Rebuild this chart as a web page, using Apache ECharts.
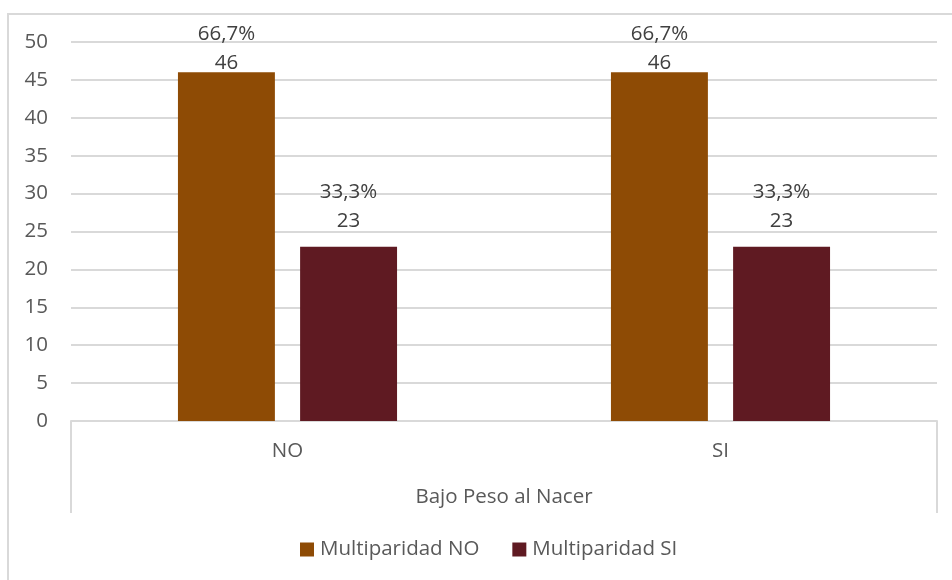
<!DOCTYPE html>
<html>
<head>
<meta charset="utf-8">
<script src="https://cdn.jsdelivr.net/npm/echarts@6/dist/echarts.min.js"></script>
<style>
  html, body { margin: 0; padding: 0; background: #ffffff; overflow: hidden; }
  #frame { position: absolute; left: 7px; top: 13px; width: 2000px; height: 2000px; border: 2px solid #d9d9d9; box-sizing: border-box; }
  #chart { position: absolute; left: 0; top: 0; width: 952px; height: 580px; }
</style>
</head>
<body>
<div id="frame"></div>
<div id="chart"></div>
<script>
const categories = ['NO', 'SI'];
const groupTitle = ['Bajo Peso al Nacer'];
const seriesNames = ['Multiparidad NO', 'Multiparidad SI'];
const valuesNO = [46, 46];
const valuesSI = [23, 23];
const percentNO = ['66,7%', '66,7%'];
const percentSI = ['33,3%', '33,3%'];
const yTicks = { min: 0, max: 50, interval: 5 };

const FONT = '"Open Sans", "Noto Sans", sans-serif';
const FS = 20.5;
const TEXT = '#595959';
const GRID = '#d9d9d9';

const chart = echarts.init(document.getElementById('chart'), null, { renderer: 'canvas' });

function mkLabel(pcts, dist) {
  return {
    show: true,
    position: 'top',
    distance: dist,
    fontFamily: FONT,
    fontSize: FS,
    color: '#404040',
    lineHeight: 29,
    formatter: p => pcts[p.dataIndex] + '\n' + p.value
  };
}

chart.setOption({
  animation: false,
  textStyle: { fontFamily: FONT },
  grid: { left: 71, right: 15, top: 42, bottom: 159, containLabel: false },
  legend: {
    data: seriesNames,
    left: 300,
    top: 539,
    padding: 0,
    itemWidth: 14,
    itemHeight: 14,
    itemGap: 33,
    icon: 'rect',
    textStyle: { fontFamily: FONT, fontSize: FS, color: TEXT, padding: [0, 0, 0, 1] }
  },
  xAxis: [
    {
      type: 'category',
      data: categories,
      position: 'bottom',
      axisLine: { show: true, lineStyle: { color: GRID, width: 2 } },
      axisTick: { show: false },
      axisLabel: { margin: 20, fontFamily: FONT, fontSize: FS, color: TEXT },
      splitLine: { show: false }
    },
    {
      type: 'category',
      data: groupTitle,
      position: 'bottom',
      offset: 0,
      axisLine: { show: false },
      axisTick: { show: true, length: 92, lineStyle: { color: GRID, width: 2 } },
      axisLabel: { margin: 66, fontFamily: FONT, fontSize: FS, color: TEXT },
      splitLine: { show: false }
    }
  ],
  yAxis: {
    type: 'value',
    min: yTicks.min,
    max: yTicks.max,
    interval: yTicks.interval,
    axisLine: { show: false },
    axisTick: { show: false },
    axisLabel: { margin: 23, fontFamily: FONT, fontSize: FS, color: TEXT },
    splitLine: { show: true, lineStyle: { color: GRID, width: 2 } }
  },
  series: [
    {
      name: seriesNames[0],
      type: 'bar',
      xAxisIndex: 0,
      data: valuesNO,
      barCategoryGap: '49.4%',
      barGap: '26%',
      itemStyle: { color: '#8E4B05' },
      label: mkLabel(percentNO, -5)
    },
    {
      name: seriesNames[1],
      type: 'bar',
      xAxisIndex: 0,
      data: valuesSI,
      barCategoryGap: '49.4%',
      barGap: '26%',
      itemStyle: { color: '#5F1A22' },
      label: mkLabel(percentSI, 11)
    }
  ]
});
</script>
</body>
</html>
